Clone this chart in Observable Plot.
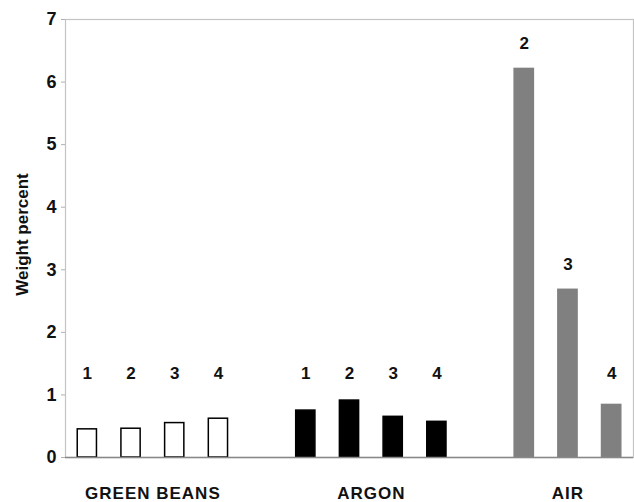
<!DOCTYPE html>
<html>
<head>
<meta charset="utf-8">
<script src="https://cdn.jsdelivr.net/npm/d3@7"></script>
<script src="https://cdn.jsdelivr.net/npm/@observablehq/plot@0.6"></script>
<style>
  html, body { margin: 0; padding: 0; background: #fff; }
  svg text { font-family: "Liberation Sans", Arial, sans-serif; font-weight: bold; }
  .grp text { letter-spacing: 1px; }
</style>
</head>
<body>
<div id="chart"></div>
<script>
// Data
const groups = ["GREEN BEANS", "ARGON", "AIR"];
const groupSlots = [0, 5, 10];          // first slot of each group on the category axis
const greenBeansLabels = ["1", "2", "3", "4"];
const greenBeansValues = [0.45, 0.46, 0.55, 0.62];
const argonLabels = ["1", "2", "3", "4"];
const argonValues = [0.75, 0.91, 0.65, 0.57];
const airLabels = ["2", "3", "4"];
const airValues = [6.21, 2.68, 0.84];
const yTicks = [0, 1, 2, 3, 4, 5, 6, 7];

const fills = {"GREEN BEANS": "white", "ARGON": "black", "AIR": "#808080"};

const series = [
  [greenBeansLabels, greenBeansValues],
  [argonLabels, argonValues],
  [airLabels, airValues]
];
const bars = [];
series.forEach(([labels, values], g) => {
  labels.forEach((lab, i) => {
    bars.push({group: groups[g], label: lab, value: values[i], slot: groupSlots[g] + i});
  });
});
const groupCenters = groups.map((g, i) => {
  const s = bars.filter(b => b.group === g).map(b => b.slot);
  return {group: g, slot: d3.mean(s)};
});
const half = 0.22;

const chart = Plot.plot({
  width: 634,
  height: 502,
  marginLeft: 65,
  marginRight: 1,
  marginTop: 19,
  marginBottom: 45,
  x: {domain: [-0.5, 12.5], axis: null},
  y: {domain: [0, 7], ticks: yTicks, label: null},
  marks: [
    Plot.frame({stroke: "#c4c4c4", strokeWidth: 1.2}),
    Plot.axisY({
      ticks: yTicks, tickFormat: d3.format("d"), tickSize: 4, tickPadding: 5, stroke: "#b0b0b0",
      fontSize: 18, fill: "#111", label: null
    }),
    Plot.text(["Weight percent"], {
      frameAnchor: "left", textAnchor: "middle", lineAnchor: "middle",
      dx: -43, dy: -4, rotate: -90, fontSize: 17, fill: "#111"
    }),
    Plot.rect(bars, {
      x1: d => d.slot - half, x2: d => d.slot + half,
      y1: 0, y2: "value",
      fill: d => fills[d.group],
      stroke: d => d.group === "AIR" ? "#808080" : "black",
      strokeWidth: 1.5
    }),
    Plot.ruleY([0], {stroke: "#888", strokeWidth: 1.5}),
    Plot.text(bars, {
      x: "slot", y: d => Math.max(d.value + 0.41, 1.34), text: "label",
      fontSize: 17, fill: "#111"
    }),
    Plot.text(groupCenters, {
      x: "slot", text: "group", frameAnchor: "bottom", lineAnchor: "middle", dy: 36.5,
      fontSize: 17, fill: "#111", className: "grp"
    })
  ]
});
document.getElementById("chart").appendChild(chart);
</script>
</body>
</html>
